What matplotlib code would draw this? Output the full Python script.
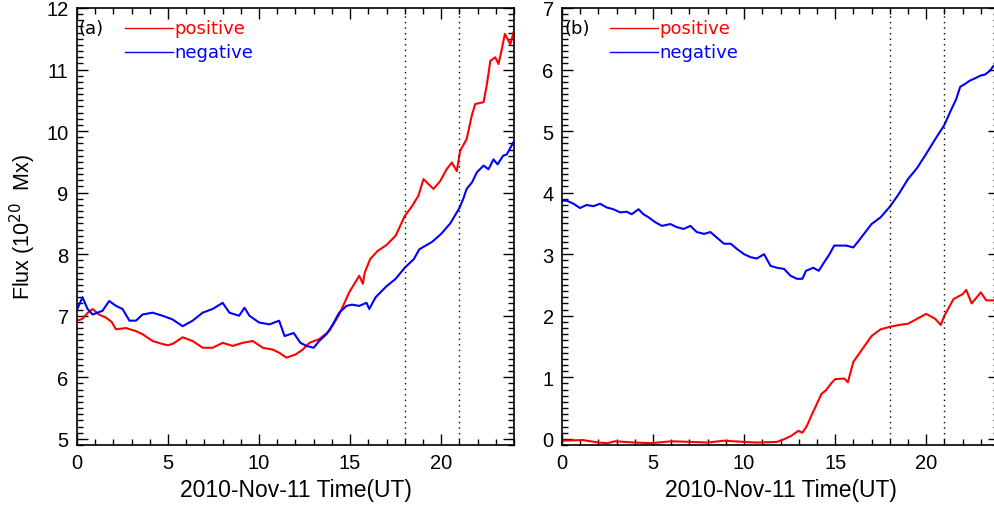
import matplotlib
matplotlib.use("Agg")
import matplotlib.pyplot as plt
from matplotlib.ticker import MultipleLocator

# ---------------- data (hours UT, flux in 1e20 Mx) ----------------
a_pos_t = [0.0, 0.3, 0.6, 0.86, 1.2, 1.59, 1.9, 2.14, 2.69, 3.24, 3.6, 4.15, 4.7, 5.0, 5.3,
           5.8, 6.35, 6.9, 7.45, 8.0, 8.55, 9.1, 9.65, 10.2, 10.75, 11.1, 11.5, 12.0, 12.4,
           12.76, 13.3, 13.85, 14.4, 14.95, 15.5, 15.7, 15.8, 16.1, 16.5, 17.0, 17.5, 18.0,
           18.4, 18.75, 19.03, 19.3, 19.58, 19.95, 20.3, 20.59, 20.86, 21.04, 21.4, 21.68,
           21.87, 22.33, 22.5, 22.7, 22.97, 23.15, 23.33, 23.5, 23.8, 23.97]
a_pos_v = [6.92, 6.95, 7.05, 7.11, 7.02, 6.97, 6.9, 6.78, 6.80, 6.75, 6.70, 6.59, 6.54, 6.52, 6.55,
           6.65, 6.59, 6.48, 6.48, 6.56, 6.51, 6.56, 6.59, 6.48, 6.45, 6.40, 6.32, 6.37, 6.45,
           6.56, 6.62, 6.75, 7.02, 7.38, 7.65, 7.52, 7.70, 7.92, 8.05, 8.15, 8.30, 8.62,
           8.78, 8.95, 9.22, 9.14, 9.06, 9.19, 9.38, 9.49, 9.35, 9.68, 9.87, 10.25,
           10.44, 10.47, 10.74, 11.14, 11.20, 11.09, 11.33, 11.58, 11.41, 11.60]

a_neg_t = [0.0, 0.3, 0.58, 0.86, 1.4, 1.77, 2.14, 2.5, 2.88, 3.24, 3.6, 4.15, 4.7, 5.25, 5.8,
           6.35, 6.9, 7.45, 8.0, 8.37, 8.9, 9.2, 9.47, 10.0, 10.57, 11.1, 11.4, 11.9, 12.27,
           12.6, 13.0, 13.3, 13.7, 14.05, 14.4, 14.8, 15.1, 15.5, 15.9, 16.05, 16.4, 17.0,
           17.5, 18.0, 18.5, 18.8, 19.5, 20.0, 20.5, 21.0, 21.2, 21.4, 21.7, 21.96, 22.33,
           22.6, 22.87, 23.1, 23.4, 23.6, 23.97]
a_neg_v = [7.10, 7.30, 7.11, 7.02, 7.08, 7.24, 7.16, 7.11, 6.92, 6.92, 7.02, 7.05, 7.00, 6.94, 6.83,
           6.92, 7.05, 7.11, 7.21, 7.05, 7.00, 7.13, 7.00, 6.89, 6.86, 6.92, 6.67, 6.72, 6.56,
           6.51, 6.48, 6.59, 6.70, 6.86, 7.05, 7.16, 7.18, 7.16, 7.21, 7.11, 7.30, 7.48,
           7.60, 7.78, 7.92, 8.08, 8.20, 8.33, 8.50, 8.75, 8.89, 9.06, 9.17, 9.33, 9.44,
           9.38, 9.54, 9.46, 9.60, 9.62, 9.82]

b_pos_t = [0.0, 1.15, 2.0, 2.5, 2.9, 4.0, 4.9, 6.0, 7.1, 8.0, 8.9, 10.0, 10.7, 11.8, 12.25,
           12.6, 12.98, 13.2, 13.45, 13.7, 14.0, 14.25, 14.5, 14.78, 15.0, 15.5, 15.7, 16.0,
           16.5, 17.0, 17.5, 18.0, 18.5, 19.0, 19.5, 20.0, 20.5, 20.8, 21.0, 21.5, 22.0,
           22.2, 22.5, 23.0, 23.3, 23.7, 24.0]
b_pos_v = [-0.03, -0.02, -0.06, -0.07, -0.04, -0.06, -0.07, -0.04, -0.05, -0.06, -0.03, -0.05,
           -0.06, -0.05, 0.0, 0.05, 0.13, 0.10, 0.21, 0.38, 0.57, 0.73, 0.79, 0.90, 0.97, 0.98,
           0.92, 1.25, 1.46, 1.67, 1.78, 1.82, 1.85, 1.87, 1.95, 2.03, 1.95, 1.85, 2.00, 2.27,
           2.35, 2.42, 2.20, 2.38, 2.25, 2.25, 2.28]

b_neg_t = [0.0, 0.26, 0.63, 0.99, 1.35, 1.72, 2.09, 2.45, 2.82, 3.19, 3.55, 3.83, 4.2, 4.47,
           4.75, 5.12, 5.49, 5.95, 6.3, 6.68, 7.05, 7.4, 7.8, 8.15, 8.5, 8.9, 9.27, 9.63, 10.0,
           10.37, 10.7, 11.1, 11.45, 11.8, 12.2, 12.55, 12.9, 13.2, 13.4, 13.8, 14.1, 14.4,
           14.65, 14.95, 15.2, 15.6, 16.0, 16.3, 17.0, 17.5, 18.0, 18.5, 19.0, 19.5, 20.0,
           20.5, 21.0, 21.3, 21.65, 21.87, 22.1, 22.4, 22.7, 22.97, 23.24, 23.5, 23.7, 24.0]
b_neg_v = [3.87, 3.87, 3.82, 3.75, 3.80, 3.78, 3.82, 3.76, 3.73, 3.68, 3.69, 3.65, 3.73, 3.65,
           3.60, 3.52, 3.46, 3.49, 3.44, 3.41, 3.46, 3.36, 3.33, 3.36, 3.27, 3.17, 3.17, 3.08, 3.00,
           2.95, 2.93, 3.00, 2.81, 2.78, 2.76, 2.65, 2.60, 2.60, 2.73, 2.78, 2.73, 2.87,
           2.98, 3.14, 3.14, 3.14, 3.11, 3.22, 3.49, 3.60, 3.77, 3.98, 4.22, 4.40, 4.63,
           4.87, 5.10, 5.30, 5.52, 5.72, 5.76, 5.82, 5.86, 5.90, 5.92, 5.98, 6.06, 6.08]

event_times = [18, 21]
panel_labels = ["(a)", "(b)"]
series_names = ["positive", "negative"]
xlabel = "2010-Nov-11 Time(UT)"
ylabel = "Flux (10$^{20}$  Mx)"

# ---------------- figure ----------------
W, H = 995, 506
fig = plt.figure(figsize=(W / 100, H / 100), dpi=100)
plt.rcParams["font.family"] = ["Liberation Sans", "DejaVu Sans"]

top, bottom = 9, 446
axes_px = [(77, 514), (562, 999)]
ylims = [(4.9, 12.0), (-0.1, 7.0)]
yticks = [range(5, 13), range(0, 8)]
data = [((a_pos_t, a_pos_v), (a_neg_t, a_neg_v)),
        ((b_pos_t, b_pos_v), (b_neg_t, b_neg_v))]

for i, (x0, x1) in enumerate(axes_px):
    ax = fig.add_axes([x0 / W, 1 - bottom / H, (x1 - x0) / W, (bottom - top) / H])
    (pt, pv), (nt, nv) = data[i]
    ax.plot(pt, pv, color="#ff0000", lw=1.5)
    ax.plot(nt, nv, color="#0000ff", lw=1.5)
    for et in event_times:
        ax.axvline(et, color="black", lw=1.0, ls=(0, (1, 3)))
    ax.set_xlim(0, 24)
    ax.set_ylim(*ylims[i])
    ax.set_xticks([0, 5, 10, 15, 20])
    ax.set_yticks(list(yticks[i]))
    ax.xaxis.set_minor_locator(MultipleLocator(1))
    ax.yaxis.set_minor_locator(MultipleLocator(0.1))
    ax.tick_params(which="both", direction="in", top=True, right=True, labelsize=14.5,
                   width=1.0, colors="black")
    ax.tick_params(which="major", length=8, pad=6)
    ax.tick_params(which="minor", length=4)
    for s in ax.spines.values():
        s.set_linewidth(1.2)
    ax.set_xlabel(xlabel, fontsize=16.5, labelpad=4)
    if i == 0:
        ax.set_ylabel(ylabel, fontsize=15.5, labelpad=6)
    # panel label and legend
    ax.text(2 / (x1 - x0), 1 - 20 / (bottom - top), panel_labels[i], transform=ax.transAxes,
            fontsize=13, family="DejaVu Sans", va="center", ha="left")
    for k, (name, col) in enumerate(zip(series_names, ["#ff0000", "#0000ff"])):
        yy = 1 - (20 + 24 * k) / (bottom - top)
        ax.plot([48 / (x1 - x0), 96 / (x1 - x0)], [yy, yy], color=col, lw=1.0,
                transform=ax.transAxes)
        ax.text(97 / (x1 - x0), yy, name, color=col, transform=ax.transAxes, fontsize=13,
                family="DejaVu Sans", va="center", ha="left")

fig.savefig("out.png", dpi=100)
